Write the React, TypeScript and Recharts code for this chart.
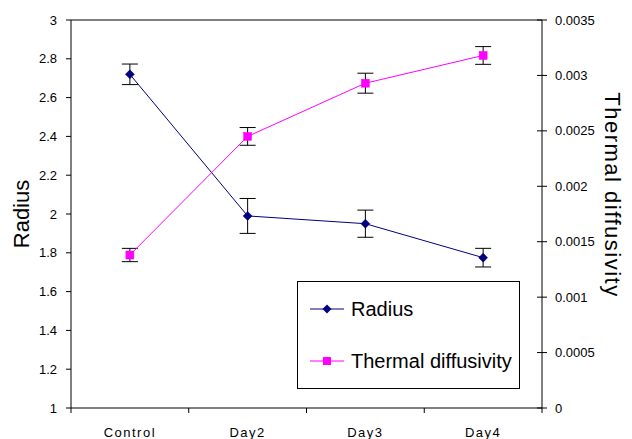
import React from 'react';
import { ComposedChart, Line, XAxis, YAxis, ErrorBar, ReferenceLine, Legend, Label } from 'recharts';

const FONT = '"Liberation Sans", Arial, sans-serif';

const categories = ['Control', 'Day2', 'Day3', 'Day4'];
const radius = [2.72, 1.99, 1.95, 1.775];
const radiusErr = [0.053, 0.09, 0.07, 0.048];
const thermal = [0.00138, 0.00245, 0.00293, 0.00318];
const thermalErr = [0.00006, 0.00008, 0.00009, 0.00008];
const radiusTicks = [1, 1.2, 1.4, 1.6, 1.8, 2, 2.2, 2.4, 2.6, 2.8, 3];
const thermalTicks = [0, 0.0005, 0.001, 0.0015, 0.002, 0.0025, 0.003, 0.0035];

const RADIUS_COLOR = '#000080';
const THERMAL_COLOR = '#FF00FF';

const data = categories.map((name, i) => ({
  name,
  pos: i + 0.5,
  radius: radius[i],
  radiusErr: radiusErr[i],
  thermal: thermal[i],
  thermalErr: thermalErr[i],
}));

const xTicks = Array.from({ length: categories.length * 2 + 1 }, (_, i) => i / 2);

const XTick = (props: any) => {
  const { x, y, payload } = props;
  const v = payload.value;
  if (Number.isInteger(v)) {
    return <line x1={x} y1={y} x2={x} y2={y + 5} stroke="#000" strokeWidth={1} />;
  }
  return (
    <text x={x} y={y + 29} textAnchor="middle" fontSize={13} letterSpacing={1.5} fill="#000" fontFamily={FONT}>
      {categories[Math.floor(v)]}
    </text>
  );
};

const RightTick = (props: any) => {
  const { x, y, payload } = props;
  return (
    <g>
      <line x1={x - 5} x2={x + 5} y1={y} y2={y} stroke="#000" strokeWidth={1} />
      <text x={x + 13} y={y} dy="0.35em" textAnchor="start" fontSize={13} fill="#000" fontFamily={FONT}>
        {String(payload.value)}
      </text>
    </g>
  );
};

const RadiusTitle = (props: any) => {
  const vb = props.viewBox || {};
  const cx = vb.x + 29;
  const cy = vb.y + vb.height / 2;
  return (
    <text x={cx} y={cy} transform={`rotate(-90 ${cx} ${cy})`} textAnchor="middle" fontSize={22} fill="#000" fontFamily={FONT}>
      Radius
    </text>
  );
};

const ThermalTitle = (props: any) => {
  const vb = props.viewBox || {};
  const cx = vb.x + 63;
  const cy = vb.y + vb.height / 2 - 19;
  return (
    <text x={cx} y={cy} transform={`rotate(90 ${cx} ${cy})`} textAnchor="middle" fontSize={22} letterSpacing={1.5} fill="#000" fontFamily={FONT}>
      Thermal diffusivity
    </text>
  );
};

const Diamond = (props: any) => {
  const { cx, cy } = props;
  if (cx == null || cy == null) return <g />;
  const r = 4.5;
  return (
    <polygon
      points={`${cx},${cy - r} ${cx + r},${cy} ${cx},${cy + r} ${cx - r},${cy}`}
      fill={RADIUS_COLOR}
      stroke={RADIUS_COLOR}
      strokeWidth={0.5}
    />
  );
};

const Square = (props: any) => {
  const { cx, cy } = props;
  if (cx == null || cy == null) return <g />;
  return <rect x={cx - 4} y={cy - 4} width={8} height={8} fill={THERMAL_COLOR} stroke={THERMAL_COLOR} strokeWidth={0.5} />;
};

const LegendContent = (props: any) => {
  const payload = props.payload || [];
  return (
    <div
      style={{
        width: 223,
        height: 108,
        border: '1px solid #000',
        boxSizing: 'border-box',
        background: '#fff',
        position: 'relative',
        fontFamily: FONT,
      }}
    >
      {payload.map((item: any, i: number) => (
        <div key={i} style={{ position: 'absolute', left: 12, top: 15 + i * 52, height: 24, display: 'flex', alignItems: 'center' }}>
          <svg width={34} height={24} style={{ display: 'block' }}>
            <line x1={0} x2={34} y1={12} y2={12} stroke={item.color} strokeWidth={1} />
            {i === 0 ? (
              <polygon points="17,7.5 21.5,12 17,16.5 12.5,12" fill={item.color} />
            ) : (
              <rect x={13} y={8} width={8} height={8} fill={item.color} />
            )}
          </svg>
          <span style={{ marginLeft: 7, fontSize: 20, color: '#000', lineHeight: '24px', whiteSpace: 'nowrap' }}>{item.value}</span>
        </div>
      ))}
    </div>
  );
};

export default function App() {
  return (
    <div style={{ position: 'absolute', left: 0, top: 0, width: 632, height: 439, background: '#fff' }}>
      <ComposedChart width={632} height={439} data={data} margin={{ top: 20, right: 0, bottom: 0, left: 0 }}>
        <XAxis
          dataKey="pos"
          type="number"
          domain={[0, categories.length]}
          ticks={xTicks}
          interval={0}
          tick={<XTick />}
          tickLine={false}
          tickSize={0}
          tickMargin={0}
          height={31}
          axisLine={{ stroke: '#000', strokeWidth: 1 }}
        />
        <YAxis
          yAxisId="left"
          type="number"
          domain={[1, 3]}
          ticks={radiusTicks}
          interval={0}
          width={71}
          tickSize={5}
          tickMargin={9}
          tickFormatter={(v: number) => String(Math.round(v * 10) / 10)}
          tick={{ fontSize: 13, fill: '#000', fontFamily: FONT }}
          tickLine={{ stroke: '#000' }}
          axisLine={{ stroke: '#000', strokeWidth: 1 }}
          label={<Label content={RadiusTitle} />}
        />
        <YAxis
          yAxisId="right"
          orientation="right"
          type="number"
          domain={[0, 0.0035]}
          ticks={thermalTicks}
          interval={0}
          width={90}
          tickSize={0}
          tickMargin={0}
          tickLine={false}
          tick={<RightTick />}
          axisLine={{ stroke: '#000', strokeWidth: 1 }}
          label={<Label content={ThermalTitle} />}
        />
        <ReferenceLine yAxisId="left" y={3} stroke="#000" strokeWidth={1} />
        <Line
          yAxisId="left"
          type="linear"
          dataKey="radius"
          name="Radius"
          stroke={RADIUS_COLOR}
          strokeWidth={1}
          dot={<Diamond />}
          activeDot={false}
          isAnimationActive={false}
        >
          <ErrorBar dataKey="radiusErr" width={8} stroke="#000" strokeWidth={1} direction="y" isAnimationActive={false} />
        </Line>
        <Line
          yAxisId="right"
          type="linear"
          dataKey="thermal"
          name="Thermal diffusivity"
          stroke={THERMAL_COLOR}
          strokeWidth={1}
          dot={<Square />}
          activeDot={false}
          isAnimationActive={false}
        >
          <ErrorBar dataKey="thermalErr" width={8} stroke="#000" strokeWidth={1} direction="y" isAnimationActive={false} />
        </Line>
        <Legend
          layout="horizontal"
          verticalAlign="middle"
          width={223}
          height={108}
          wrapperStyle={{ left: 297, top: 281, width: 223, height: 108 }}
          content={<LegendContent />}
        />
      </ComposedChart>
    </div>
  );
}
